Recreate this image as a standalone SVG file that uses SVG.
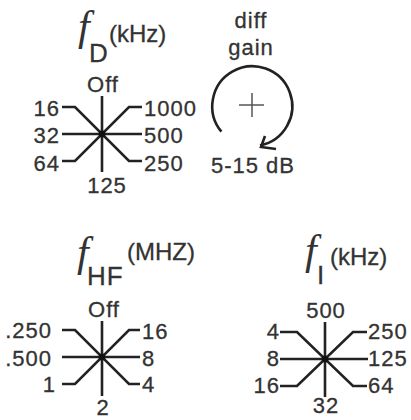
<svg xmlns="http://www.w3.org/2000/svg" width="411" height="420" viewBox="0 0 411 420">
<style>
.t{font-family:"Liberation Sans",Arial,sans-serif;font-size:22px;letter-spacing:1px;fill:#333;stroke:#333;stroke-width:0.3}
.s{font-family:"Liberation Sans",Arial,sans-serif;font-size:24px;fill:#333;stroke:#333;stroke-width:0.3}
.sub{font-family:"Liberation Sans",Arial,sans-serif;font-size:26px;letter-spacing:1px;fill:#333;stroke:#333;stroke-width:0.3}
.f{font-family:"Liberation Serif","Times New Roman",serif;font-style:italic;font-size:42px;fill:#333}
.e{text-anchor:end}
.m{text-anchor:middle}
.k{fill:none;stroke:#222;stroke-width:2.6}
.c{fill:#111}
</style>
<rect width="411" height="420" fill="#fff"/>
<g id="knob-fD">
<text class="f" x="78" y="40">f</text>
<text class="sub" x="89" y="62">D</text>
<text class="s" x="109" y="42">(kHz)</text>
<path class="k" d="M102,96V172M62,134H142M62,107H75L129,161H142M142,107H129L75,161H62"/>
<circle class="c" cx="102" cy="134" r="3.2"/>
<text class="t m" x="103" y="92">Off</text>
<text class="t e" x="60" y="116">16</text>
<text class="t e" x="60" y="143">32</text>
<text class="t e" x="60" y="171">64</text>
<text class="t" x="144" y="116">1000</text>
<text class="t" x="144" y="143">500</text>
<text class="t" x="144" y="171">250</text>
<text class="t m" x="107" y="193">125</text>
</g>
<g id="knob-gain">
<text class="t m" x="251" y="28">diff</text>
<text class="t m" x="251" y="55">gain</text>
<path d="M239,105H264M252,93V117" fill="none" stroke="#555" stroke-width="1.5"/>
<path class="k" d="M221.4,131.7A40,40 0 1 1 260,145.5" stroke-width="2.3"/>
<path class="k" d="M265,136L261,147L276,149" stroke-width="2.3"/>
<text class="t m" x="253" y="173">5-15 dB</text>
</g>
<g id="knob-fHF">
<text class="f" x="77" y="266">f</text>
<text class="sub" x="87" y="285">HF</text>
<text class="s" x="127" y="260">(MHZ)</text>
<path class="k" d="M102,321V396M62,357H140M62,330H75L129,384H140M140,330H129L75,384H62"/>
<circle class="c" cx="102" cy="357" r="3.2"/>
<text class="t m" x="104" y="317">Off</text>
<text class="t e" x="52" y="338">.250</text>
<text class="t e" x="52" y="366">.500</text>
<text class="t e" x="56" y="392">1</text>
<text class="t" x="142" y="339">16</text>
<text class="t" x="142" y="366">8</text>
<text class="t" x="142" y="392">4</text>
<text class="t m" x="103" y="415">2</text>
</g>
<g id="knob-fI">
<text class="f" x="305" y="264">f</text>
<text class="sub" x="317" y="284">I</text>
<text class="s" x="330" y="265">(kHz)</text>
<path class="k" d="M325,322V397M280,359H368M280,332H297L353,386H367M367,332H353L297,386H280"/>
<circle class="c" cx="325" cy="359" r="3.2"/>
<text class="t m" x="326" y="318">500</text>
<text class="t e" x="280" y="339">4</text>
<text class="t e" x="280" y="366">8</text>
<text class="t e" x="280" y="393">16</text>
<text class="t" x="368" y="339">250</text>
<text class="t" x="368" y="366">125</text>
<text class="t" x="368" y="393">64</text>
<text class="t m" x="326" y="413">32</text>
</g>
</svg>
